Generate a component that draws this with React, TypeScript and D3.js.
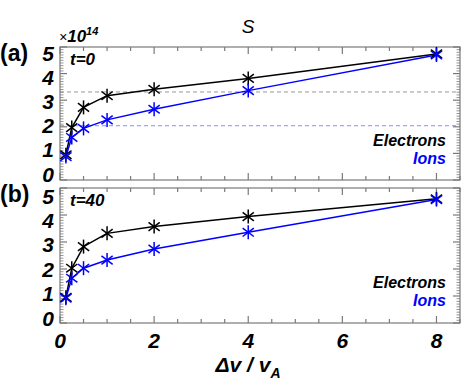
import * as d3 from "d3";

// x positions (Δv / v_A) shared by both panels
const dv = [0.125, 0.25, 0.5, 1, 2, 4, 8];

// panel (a) t=0, units of 1e14
const elecT0 = [0.95, 1.97, 2.73, 3.17, 3.41, 3.82, 4.74];
const ionsT0 = [0.88, 1.6, 1.94, 2.26, 2.66, 3.36, 4.7];
// reference levels drawn as dashed lines in panel (a)
const refElecT0 = 3.31;
const refIonsT0 = 2.04;

// panel (b) t=40
const elecT40 = [0.95, 2.03, 2.83, 3.32, 3.57, 3.94, 4.6];
const ionsT40 = [0.92, 1.66, 2.03, 2.33, 2.74, 3.36, 4.57];

const xTicks = [0, 2, 4, 6, 8];
const yTicks = [0, 1, 2, 3, 4, 5];

const BLACK = "#000000";
const BLUE = "#0000ff";
const FRAME = "#7a7a7a";
const FONT = "'Liberation Sans', Arial, sans-serif";

const W = 471;
const H = 389;

const x = d3.scaleLinear().domain([0, 8.5]).range([60, 460]);

type Panel = {
  tag: string;
  time: string;
  elec: number[];
  ions: number[];
  refs: { v: number; color: string }[];
  y: d3.ScaleLinear<number, number>;
  labelY: d3.ScaleLinear<number, number>;
  legendBase: number;
};

const panels: Panel[] = [
  {
    tag: "(a)",
    time: "t=0",
    elec: elecT0,
    ions: ionsT0,
    refs: [
      { v: refElecT0, color: "#999999" },
      { v: refIonsT0, color: "#8c8cff" },
    ],
    y: d3.scaleLinear().domain([0, 5]).range([180, 47]),
    labelY: d3.scaleLinear().domain([0, 5]).range([174, 53]),
    legendBase: 146,
  },
  {
    tag: "(b)",
    time: "t=40",
    elec: elecT40,
    ions: ionsT40,
    refs: [],
    y: d3.scaleLinear().domain([0, 5]).range([323, 188]),
    labelY: d3.scaleLinear().domain([0, 5]).range([318, 196]),
    legendBase: 288,
  },
];

function Star({ cx, cy, color }: { cx: number; cy: number; color: string }) {
  const r = 7;
  const d = r * 0.8;
  const h = r * 0.6;
  return (
    <g stroke={color} strokeWidth={1.5}>
      <line x1={cx} y1={cy - r} x2={cx} y2={cy + r} />
      <line x1={cx - d} y1={cy - h} x2={cx + d} y2={cy + h} />
      <line x1={cx - d} y1={cy + h} x2={cx + d} y2={cy - h} />
    </g>
  );
}

function PanelView({ p }: { p: Panel }) {
  const { y } = p;
  const [y0, y1] = y.range(); // bottom, top
  const x0 = x.range()[0];
  const x1 = x.range()[1];
  const line = d3
    .line<number>()
    .x((_, i) => x(dv[i]))
    .y((v) => y(v));
  const xMinor = d3.range(0, 8.51, 0.5);
  const yMinor = d3.range(0, 5.001, 0.1);
  return (
    <g>
      {p.refs.map((r) => (
        <line
          key={r.v}
          x1={x0}
          x2={x1}
          y1={y(r.v)}
          y2={y(r.v)}
          stroke={r.color}
          strokeWidth={1}
          strokeDasharray="4,3"
        />
      ))}
      {/* frame + ticks */}
      <g stroke={FRAME} strokeWidth={1.2} fill="none">
        <rect x={x0} y={y1} width={x1 - x0} height={y0 - y1} />
        {xMinor.map((t) => {
          const major = xTicks.includes(t);
          const len = major ? 7 : 4;
          return (
            <g key={"x" + t}>
              <line x1={x(t)} x2={x(t)} y1={y0} y2={y0 - len} />
              <line x1={x(t)} x2={x(t)} y1={y1} y2={y1 + len} />
            </g>
          );
        })}
        {yMinor.map((t, i) => {
          const major = i % 10 === 0;
          const len = major ? 7 : 3.5;
          return (
            <g key={"y" + i}>
              <line x1={x0} x2={x0 + len} y1={y(t)} y2={y(t)} strokeWidth={major ? 1.2 : 0.8} />
              <line x1={x1} x2={x1 - len} y1={y(t)} y2={y(t)} strokeWidth={major ? 1.2 : 0.8} />
            </g>
          );
        })}
      </g>
      {/* y tick labels */}
      {yTicks.map((t) => (
        <text
          key={"yl" + t}
          x={54}
          y={p.labelY(t)}
          textAnchor="end"
          dominantBaseline="central"
          fontSize={21}
          fontWeight="bold"
          fontStyle="italic"
          fontFamily={FONT}
        >
          {t}
        </text>
      ))}
      <text
        x={0}
        y={y1 + 6}
        fontSize={23}
        fontWeight="bold"
        fontFamily={FONT}
        dominantBaseline="central"
      >
        {p.tag}
      </text>
      <text
        x={70}
        y={y1 + 18}
        fontSize={17}
        fontWeight="bold"
        fontStyle="italic"
        fontFamily={FONT}
      >
        {p.time}
      </text>
      {/* series */}
      <path d={line(p.elec) ?? ""} fill="none" stroke={BLACK} strokeWidth={1.5} />
      <path d={line(p.ions) ?? ""} fill="none" stroke={BLUE} strokeWidth={1.5} />
      {p.elec.map((v, i) => (
        <Star key={"e" + i} cx={x(dv[i])} cy={y(v)} color={BLACK} />
      ))}
      {p.ions.map((v, i) => (
        <Star key={"i" + i} cx={x(dv[i])} cy={y(v)} color={BLUE} />
      ))}
      {/* legend */}
      <g fontSize={16} fontWeight="bold" fontStyle="italic" fontFamily={FONT} textAnchor="end">
        <text x={446} y={p.legendBase} fill={BLACK}>
          Electrons
        </text>
        <text x={446} y={p.legendBase + 18} fill={BLUE}>
          Ions
        </text>
      </g>
    </g>
  );
}

export default function App() {
  return (
    <svg
      width={W}
      height={H}
      viewBox={`0 0 ${W} ${H}`}
      style={{ position: "absolute", left: 0, top: 0, background: "#fff" }}
    >
      <rect width={W} height={H} fill="#fff" />
      <text x={248} y={33} textAnchor="middle" fontSize={19} fontStyle="italic" fontFamily={FONT}>
        S
      </text>
      <text x={59} y={42} fontFamily={FONT} fontStyle="italic">
        <tspan fontSize={14}>×</tspan>
        <tspan fontSize={17} fontWeight="bold">10</tspan>
        <tspan fontSize={11} fontWeight="bold" dy={-7}>14</tspan>
      </text>
      {panels.map((p) => (
        <PanelView key={p.tag} p={p} />
      ))}
      {xTicks.map((t) => (
        <text
          key={"xl" + t}
          x={x(t)}
          y={348}
          textAnchor="middle"
          fontSize={21}
          fontWeight="bold"
          fontStyle="italic"
          fontFamily={FONT}
        >
          {t}
        </text>
      ))}
      <text
        x={248}
        y={372}
        textAnchor="middle"
        fontSize={21}
        fontWeight="bold"
        fontStyle="italic"
        fontFamily={FONT}
      >
        Δv / v
        <tspan fontSize={14} dy={6}>A</tspan>
      </text>
    </svg>
  );
}
